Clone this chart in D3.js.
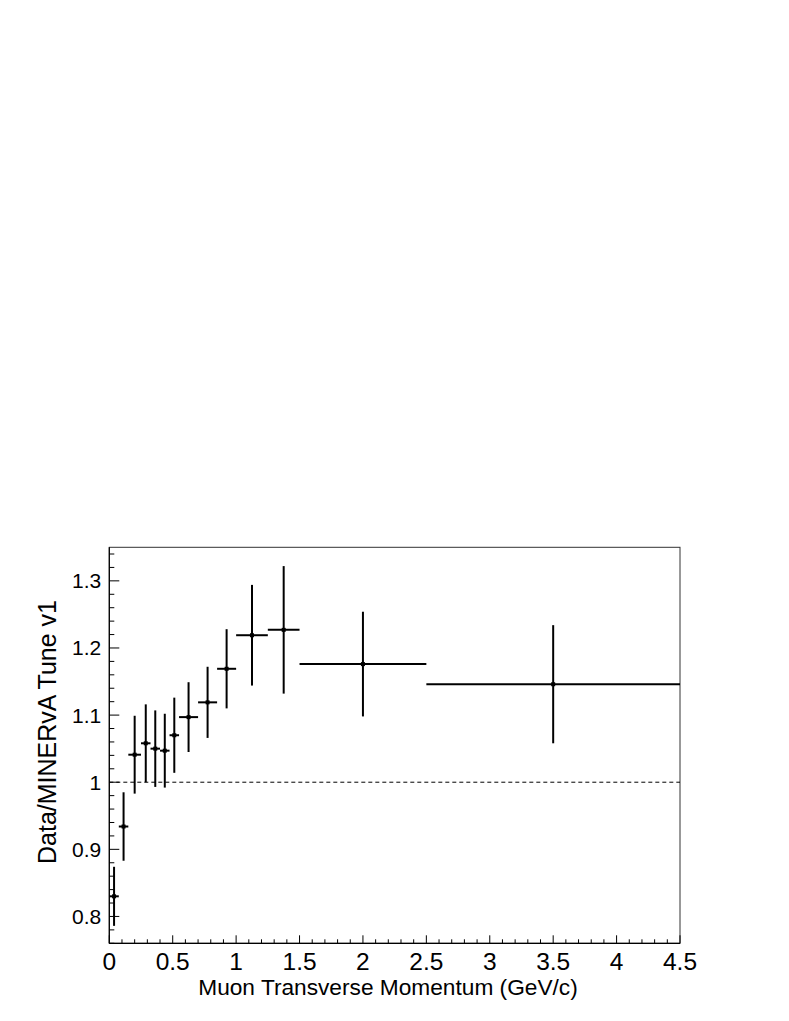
<!DOCTYPE html>
<html>
<head>
<meta charset="utf-8">
<script src="https://cdn.jsdelivr.net/npm/d3@7"></script>
<style>
  html, body { margin: 0; padding: 0; background: #fff; }
  svg { display: block; }
  text { font-family: "Liberation Sans", Arial, Helvetica, sans-serif; fill: #000; }
</style>
</head>
<body>
<script>
// Data: bin edges (GeV/c), ratio values and symmetric errors
const binLow  = [0, 0.075, 0.15, 0.25, 0.325, 0.4, 0.475, 0.55, 0.7, 0.85, 1.0, 1.25, 1.5, 2.5];
const binHigh = [0.075, 0.15, 0.25, 0.325, 0.4, 0.475, 0.55, 0.7, 0.85, 1.0, 1.25, 1.5, 2.5, 4.5];
const ratio   = [0.830, 0.934, 1.041, 1.058, 1.050, 1.047, 1.070, 1.097, 1.119, 1.169, 1.219, 1.227, 1.176, 1.146];
const ratioErr= [0.044, 0.051, 0.058, 0.058, 0.057, 0.055, 0.056, 0.052, 0.053, 0.059, 0.075, 0.095, 0.078, 0.088];
const xTicks  = [0, 0.5, 1, 1.5, 2, 2.5, 3, 3.5, 4, 4.5];
const yTicks  = [0.8, 0.9, 1.0, 1.1, 1.2, 1.3];
const xDomain = [0, 4.5];
const yDomain = [0.76, 1.35];
const xTitle = "Muon Transverse Momentum (GeV/c)";
const yTitle = "Data/MINERvA Tune v1";

const W = 789, H = 1021;
const L = 109.3, R = 680, T = 547.3, B = 943.3;

const svg = d3.select("body").append("svg").attr("width", W).attr("height", H);

const x = d3.scaleLinear().domain(xDomain).range([L, R]);
const y = d3.scaleLinear().domain(yDomain).range([B, T]);

// frame (top & right)
svg.append("rect").attr("x", L).attr("y", T).attr("width", R - L).attr("height", B - T)
  .attr("fill", "none").attr("stroke", "#333").attr("stroke-width", 1);

// minor ticks
const xMinor = d3.range(0, 4.5001, 0.1).filter(v => Math.abs(v * 2 - Math.round(v * 2)) > 1e-6);
const yMinor = d3.range(0.76, 1.3501, 0.02).filter(v => Math.abs(v * 10 - Math.round(v * 10)) > 1e-6);

const g = svg.append("g");
g.selectAll(".xminor").data(xMinor).join("line")
  .attr("x1", d => x(d)).attr("x2", d => x(d)).attr("y1", B).attr("y2", B - 4)
  .attr("stroke", "#000").attr("stroke-width", 1);
g.selectAll(".xmajor").data(xTicks).join("line")
  .attr("x1", d => x(d)).attr("x2", d => x(d)).attr("y1", B).attr("y2", B - 8)
  .attr("stroke", "#000").attr("stroke-width", 1);
g.selectAll(".yminor").data(yMinor).join("line")
  .attr("x1", L).attr("x2", L + 5).attr("y1", d => y(d)).attr("y2", d => y(d))
  .attr("stroke", "#000").attr("stroke-width", 1);
g.selectAll(".ymajor").data(yTicks).join("line")
  .attr("x1", L).attr("x2", L + 10).attr("y1", d => y(d)).attr("y2", d => y(d))
  .attr("stroke", "#000").attr("stroke-width", 1);

// axis lines
svg.append("line").attr("x1", L).attr("x2", R).attr("y1", B).attr("y2", B).attr("stroke", "#000").attr("stroke-width", 1.2);
svg.append("line").attr("x1", L).attr("x2", L).attr("y1", T).attr("y2", B).attr("stroke", "#000").attr("stroke-width", 1.2);

// tick labels
const fmt = d => (Math.abs(d - 1) < 1e-9 ? "1" : String(+d.toFixed(2)));
svg.selectAll(".xl").data(xTicks).join("text")
  .attr("x", d => x(d)).attr("y", B + 27).attr("text-anchor", "middle")
  .attr("font-size", 24.5).text(d => String(d));
svg.selectAll(".yl").data(yTicks).join("text")
  .attr("x", L - 8).attr("y", d => y(d) + 7.5).attr("text-anchor", "end")
  .attr("font-size", 21).text(fmt);

// titles
svg.append("text").attr("x", 388).attr("y", 995).attr("text-anchor", "middle")
  .attr("font-size", 22.7).text(xTitle);
svg.append("text").attr("transform", `translate(56,${732}) rotate(-90)`).attr("text-anchor", "middle")
  .attr("font-size", 25).text(yTitle);

// reference line at 1
svg.append("line").attr("x1", L).attr("x2", R).attr("y1", y(1)).attr("y2", y(1))
  .attr("stroke", "#000").attr("stroke-width", 1).attr("stroke-dasharray", "4,3");

// data
const data = ratio.map((v, i) => ({ lo: binLow[i], hi: binHigh[i], v, e: ratioErr[i] }));
const pts = svg.append("g");
pts.selectAll(".h").data(data).join("line")
  .attr("x1", d => x(d.lo)).attr("x2", d => x(d.hi)).attr("y1", d => y(d.v)).attr("y2", d => y(d.v))
  .attr("stroke", "#000").attr("stroke-width", 2);
pts.selectAll(".v").data(data).join("line")
  .attr("x1", d => x((d.lo + d.hi) / 2)).attr("x2", d => x((d.lo + d.hi) / 2))
  .attr("y1", d => y(d.v - d.e)).attr("y2", d => y(d.v + d.e))
  .attr("stroke", "#000").attr("stroke-width", 2);
pts.selectAll(".m").data(data).join("rect")
  .attr("x", d => x((d.lo + d.hi) / 2) - 2).attr("y", d => y(d.v) - 2)
  .attr("width", 4).attr("height", 4).attr("fill", "#000");
</script>
</body>
</html>
